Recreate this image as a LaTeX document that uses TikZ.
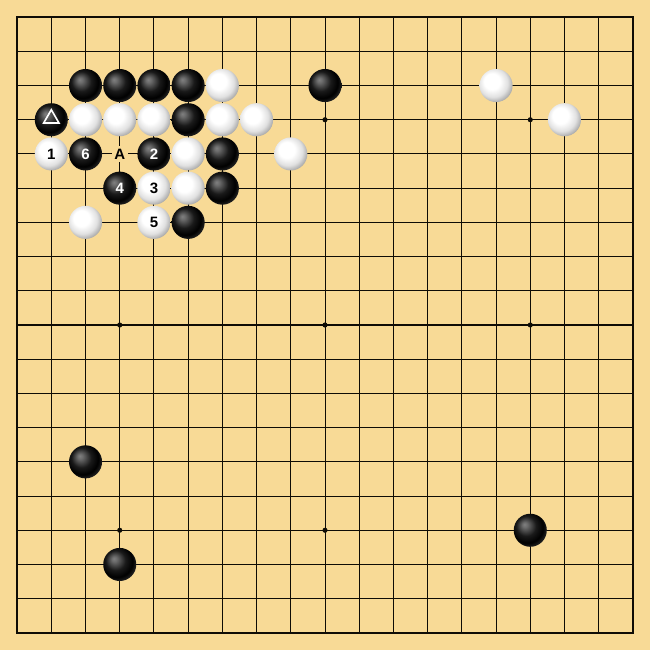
\documentclass[tikz,border=0pt]{standalone}
\usepackage{fontspec}
\setsansfont{Liberation Sans}
\usetikzlibrary{shapes.geometric}
\definecolor{boardyellow}{RGB}{248,218,150}
\definecolor{gridink}{RGB}{15,12,5}
\pgfdeclareradialshading{stonewhite}{\pgfpoint{-8bp}{8bp}}{color(0bp)=(white); color(12bp)=(white); color(22bp)=(black!12); color(31bp)=(black!40); color(36bp)=(black!45); color(50bp)=(black!45)}
\pgfdeclareradialshading{stoneblack}{\pgfpoint{-9bp}{9bp}}{color(0bp)=(black!50); color(4bp)=(black!58); color(15bp)=(black!90); color(24bp)=(black); color(32bp)=(black!80); color(50bp)=(black!75)}
\tikzset{
  stone/.style={circle, inner sep=0pt, minimum size=0.58cm,
    font=\sffamily\bfseries\fontsize{7.5}{8}\selectfont},
  stoneb/.style={stone, shading=stoneblack, text=white},
  stonew/.style={stone, shading=stonewhite, text=black},
  hoshi/.style={circle, fill=gridink, inner sep=0pt, minimum size=0.09cm},
}
\begin{document}
\begin{tikzpicture}[x=0.6cm, y=-0.6cm]
				% Board
				\fill[boardyellow] (-0.5,-0.5) rectangle (18.5,18.5);
				\foreach \i in {1,...,17} {
					\draw[gridink, line width=0.5pt] (\i,0) -- (\i,18);
					\draw[gridink, line width=0.5pt] (0,\i) -- (18,\i);
				}
				\draw[gridink, line width=1.1pt] (0,0) rectangle (18,18);
				\foreach \x in {3,9,15}
					\foreach \y in {3,9,15}
						\node[hoshi] (h\x-\y) at (\x,\y) {};

				% Black stones
				\foreach \x/\y in {2/2,3/2,4/2,5/2,9/2,5/3,6/4,6/5,5/6,2/13,15/15,3/16}
					\node[stoneb] (b\x-\y) at (\x,\y) {};

				% White stones
				\foreach \x/\y in {6/2,14/2,2/3,3/3,4/3,6/3,7/3,16/3,5/4,8/4,5/5,2/6}
					\node[stonew] (w\x-\y) at (\x,\y) {};

				% Marked stone
				\node[stoneb] (b1-3) at (1,3) {};
				\node[regular polygon, regular polygon sides=3, draw=white, line width=0.8pt,
					inner sep=0pt, minimum size=0.31cm] (mark) at ([yshift=0.02cm]b1-3) {};

				% Numbered moves
				\node[stonew] (m1) at (1,4) {1};
				\node[stoneb] (m2) at (4,4) {2};
				\node[stonew] (m3) at (4,5) {3};
				\node[stoneb] (m4) at (3,5) {4};
				\node[stonew] (m5) at (4,6) {5};
				\node[stoneb] (m6) at (2,4) {6};

				% Point A
				\node[fill=boardyellow, inner sep=1.2pt, font=\sffamily\bfseries\fontsize{7.5}{8}\selectfont] (ptA) at (3,4) {A};

			\end{tikzpicture}
\end{document}
